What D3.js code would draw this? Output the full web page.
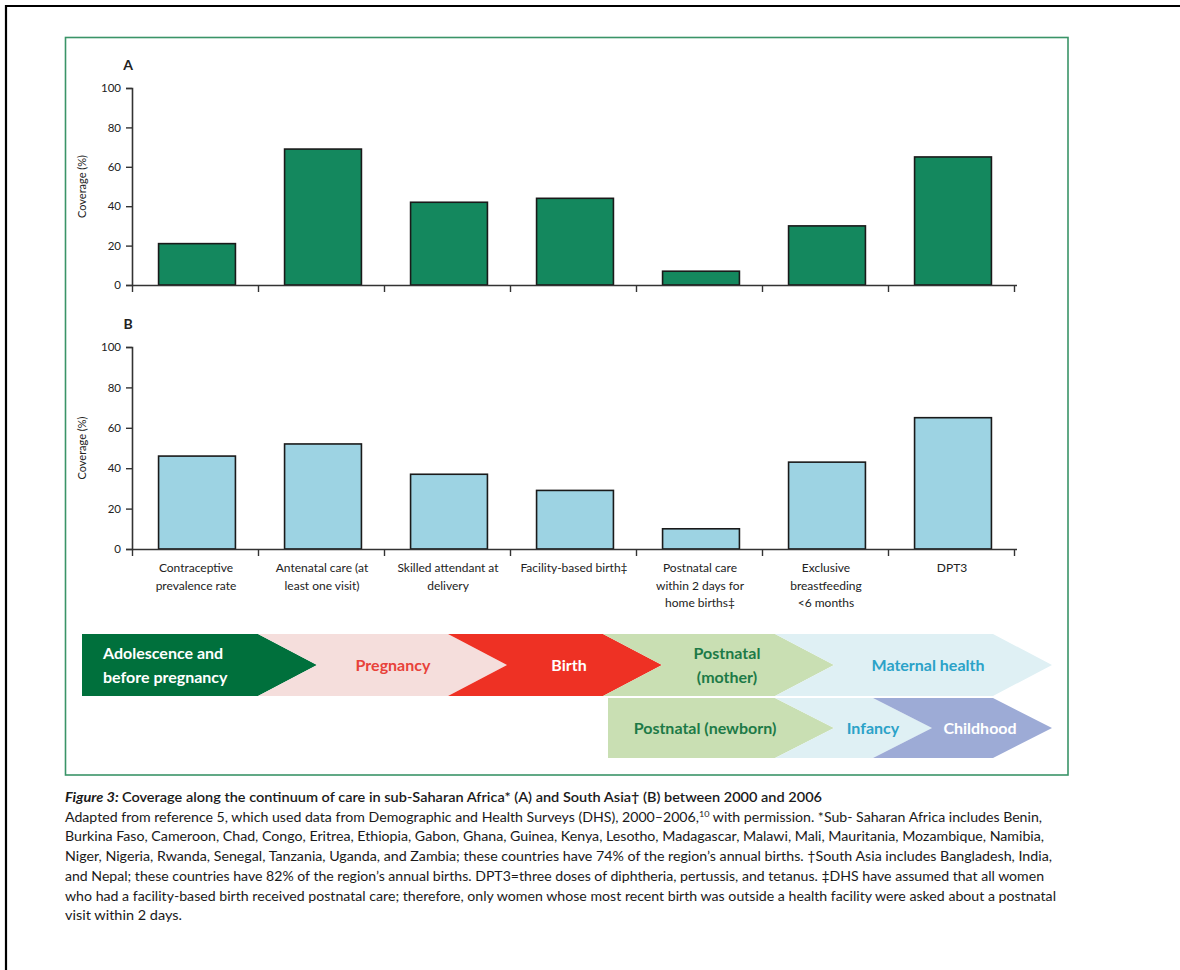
<!DOCTYPE html>
<html>
<head>
<meta charset="utf-8">
<script src="https://cdn.jsdelivr.net/npm/d3@7"></script>
<style>
  html, body { margin: 0; padding: 0; background: #fff; }
  svg { display: block; }
  text { font-family: Lato, "Open Sans", sans-serif; }
</style>
</head>
<body>
<svg id="fig" width="1180" height="970"></svg>
<script>
// Continuum-of-care indicators (shared by both panels)
const categories = [
  ["Contraceptive", "prevalence rate"],
  ["Antenatal care (at", "least one visit)"],
  ["Skilled attendant at", "delivery"],
  ["Facility-based birth\u2021"],
  ["Postnatal care", "within 2 days for", "home births\u2021"],
  ["Exclusive", "breastfeeding", "<6 months"],
  ["DPT3"]
];
const categoryKeys = categories.map(c => c.join(" "));

// Coverage (%) — A: sub-Saharan Africa, B: South Asia
const coverageAfrica = [21, 69, 42, 44, 7, 30, 65];
const coverageSouthAsia = [46, 52, 37, 29, 10, 43, 65];
const yTicks = [0, 20, 40, 60, 80, 100];

// Stages of the continuum shown as chevrons
const stagesTop = [
  ["Adolescence and", "before pregnancy"],
  ["Pregnancy"],
  ["Birth"],
  ["Postnatal", "(mother)"],
  ["Maternal health"]
];
const stagesBottom = [
  ["Postnatal (newborn)"],
  ["Infancy"],
  ["Childhood"]
];

const captionLines = [
  "Coverage along the continuum of care in sub-Saharan Africa* (A) and South Asia\u2020 (B) between 2000 and 2006",
  "Adapted from reference 5, which used data from Demographic and Health Surveys (DHS), 2000\u20132006,",
  "Burkina Faso, Cameroon, Chad, Congo, Eritrea, Ethiopia, Gabon, Ghana, Guinea, Kenya, Lesotho, Madagascar, Malawi, Mali, Mauritania, Mozambique, Namibia,",
  "Niger, Nigeria, Rwanda, Senegal, Tanzania, Uganda, and Zambia; these countries have 74% of the region\u2019s annual births. \u2020South Asia includes Bangladesh, India,",
  "and Nepal; these countries have 82% of the region\u2019s annual births. DPT3=three doses of diphtheria, pertussis, and tetanus. \u2021DHS have assumed that all women",
  "who had a facility-based birth received postnatal care; therefore, only women whose most recent birth was outside a health facility were asked about a postnatal",
  "visit within 2 days."
];

const svg = d3.select("#fig");

// Page rules and figure frame
svg.append("line").attr("x1", 5).attr("x2", 1180).attr("y1", 6).attr("y2", 6)
  .attr("stroke", "#000").attr("stroke-width", 2.2);
svg.append("line").attr("x1", 6).attr("x2", 6).attr("y1", 5).attr("y2", 970)
  .attr("stroke", "#000").attr("stroke-width", 2.2);
svg.append("rect").attr("x", 65.5).attr("y", 37.5).attr("width", 1002.5).attr("height", 737.5)
  .attr("fill", "none").attr("stroke", "#3a9468").attr("stroke-width", 1.6);

const xLeft = 132, xRight = 1014;
const x = d3.scaleBand().domain(categoryKeys).range([xLeft, xRight])
  .paddingInner(0.39).paddingOuter(0.195);
const xBounds = d3.scaleLinear().domain([0, categories.length]).range([xLeft, xRight]);

function panel(letter, values, fill, y0, y100, withLabels) {
  const y = d3.scaleLinear().domain([0, 100]).range([y0, y100]);
  const g = svg.append("g");

  g.append("text").attr("x", 128).attr("y", y100 - 18)
    .attr("text-anchor", "middle").attr("font-size", 14).attr("font-weight", 700)
    .attr("fill", "#222").text(letter);

  g.append("text")
    .attr("transform", `translate(86,${(y0 + y100) / 2}) rotate(-90)`)
    .attr("text-anchor", "middle").attr("font-size", 11).attr("fill", "#222")
    .text("Coverage (%)");

  g.selectAll("rect.bar").data(values).join("rect").attr("class", "bar")
    .attr("x", (d, i) => x(categoryKeys[i]) + 2)
    .attr("width", x.bandwidth())
    .attr("y", d => y(d))
    .attr("height", d => y(0) - y(d))
    .attr("fill", fill).attr("stroke", "#1a1a1a").attr("stroke-width", 1.6);

  const yAxis = g.append("g").attr("transform", `translate(${xLeft},0)`)
    .call(d3.axisLeft(y).tickValues(yTicks).tickSize(6).tickPadding(5));
  yAxis.select(".domain").attr("stroke", "#333").attr("stroke-width", 1.6);
  yAxis.selectAll(".tick line").attr("stroke", "#333").attr("stroke-width", 1.4);
  yAxis.selectAll(".tick text").attr("font-size", 11.5).attr("fill", "#222")
    .attr("font-family", "Lato, sans-serif");

  const xAxis = g.append("g").attr("transform", `translate(0,${y0})`)
    .call(d3.axisBottom(xBounds).tickValues(d3.range(categories.length + 1))
      .tickFormat("").tickSize(7).tickSizeOuter(0));
  xAxis.select(".domain").attr("stroke", "#333").attr("stroke-width", 1.6)
    .attr("d", `M${xLeft},0.5H${xRight + 3}`);
  xAxis.selectAll(".tick line").attr("stroke", "#333").attr("stroke-width", 1.4);

  if (withLabels) {
    const lab = g.selectAll("text.cat").data(categories).join("text").attr("class", "cat")
      .attr("text-anchor", "middle").attr("font-size", 12).attr("fill", "#222")
      .attr("x", (d, i) => x(categoryKeys[i]) + x.bandwidth() / 2 + 1)
      .attr("y", y0 + 23);
    lab.selectAll("tspan").data(d => d).join("tspan")
      .attr("x", function () { return d3.select(this.parentNode).attr("x"); })
      .attr("dy", (d, i) => i === 0 ? 0 : 17.5)
      .text(d => d);
  }
}

panel("A", coverageAfrica, "#14885e", 285, 88, false);
panel("B", coverageSouthAsia, "#9dd3e3", 549, 347, true);

// Chevron band
const tip = 59;
function chevron(x0, x1, top, bot, notched) {
  const mid = (top + bot) / 2;
  const pts = [[x0, top], [x1, top], [x1 + tip, mid], [x1, bot], [x0, bot]];
  if (notched) pts.push([x0 + tip, mid]);
  return "M" + pts.map(p => p.join(",")).join("L") + "Z";
}

const topRow = { top: 634, bot: 696, edges: [82, 258, 448, 603, 775, 993] };
const botRow = { top: 698, bot: 758, edges: [608, 775, 873, 993] };
const topStyle = [
  { fill: "#00703c", text: "#ffffff", anchor: "start", tx: 103 },
  { fill: "#f5dedc", text: "#e8423a", anchor: "middle", tx: 393 },
  { fill: "#ee3124", text: "#ffffff", anchor: "middle", tx: 569 },
  { fill: "#c9dfb3", text: "#1d7a47", anchor: "middle", tx: 727 },
  { fill: "#dff0f4", text: "#2ba2c8", anchor: "middle", tx: 928 }
];
const botStyle = [
  { fill: "#c9dfb3", text: "#1d7a47", anchor: "middle", tx: 705 },
  { fill: "#dff0f4", text: "#2ba2c8", anchor: "middle", tx: 873 },
  { fill: "#9dabd6", text: "#ffffff", anchor: "middle", tx: 980 }
];

function drawRow(stages, row, styles) {
  const g = svg.append("g");
  const mid = (row.top + row.bot) / 2;
  g.selectAll("path").data(stages).join("path")
    .attr("d", (d, i) => chevron(row.edges[i], row.edges[i + 1], row.top, row.bot, i > 0))
    .attr("fill", (d, i) => styles[i].fill);
  const t = g.selectAll("text").data(stages).join("text")
    .attr("font-size", 16).attr("font-weight", 700)
    .attr("fill", (d, i) => styles[i].text)
    .attr("text-anchor", (d, i) => styles[i].anchor)
    .attr("x", (d, i) => styles[i].tx)
    .attr("y", d => mid + 5.5 - (d.length - 1) * 12);
  t.selectAll("tspan").data(d => d).join("tspan")
    .attr("x", function () { return d3.select(this.parentNode).attr("x"); })
    .attr("dy", (d, i) => i === 0 ? 0 : 24)
    .text(d => d);
}
drawRow(stagesTop, topRow, topStyle);
drawRow(stagesBottom, botRow, botStyle);

// Caption
const cap = svg.append("g").attr("fill", "#1a1a1a");
const capY = 802, capStep = 19.7;
const lineEnds = [822, 1042, 1044, 1052, 1044, 1056, 182];

const l1 = cap.append("text").attr("x", 65).attr("y", capY).attr("font-size", 13)
  .attr("textLength", lineEnds[0] - 65).attr("lengthAdjust", "spacingAndGlyphs");
l1.append("tspan").attr("font-style", "italic").attr("font-weight", 700).text("Figure 3: ");
l1.append("tspan").attr("font-weight", 600).text(captionLines[0]);

const l2 = cap.append("text").attr("x", 65).attr("y", capY + capStep).attr("font-size", 12.5)
  .attr("textLength", lineEnds[1] - 65).attr("lengthAdjust", "spacingAndGlyphs");
l2.append("tspan").text(captionLines[1]);
l2.append("tspan").attr("font-size", 8).attr("dy", -5).text("10");
l2.append("tspan").attr("dy", 5).text(" with permission. *Sub- Saharan Africa includes Benin,");

captionLines.slice(2).forEach((line, i) => {
  cap.append("text").attr("x", 65).attr("y", capY + capStep * (i + 2)).attr("font-size", 12.5)
    .attr("textLength", lineEnds[i + 2] - 65).attr("lengthAdjust", "spacingAndGlyphs")
    .text(line);
});
</script>
</body>
</html>
